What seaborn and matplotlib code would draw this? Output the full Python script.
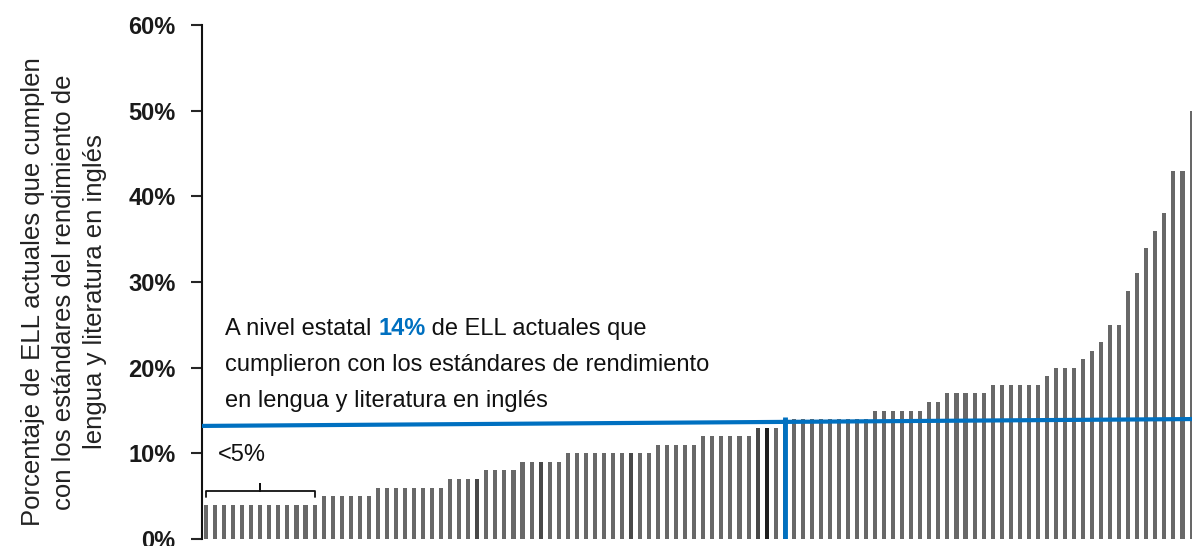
import matplotlib
matplotlib.use("Agg")
import matplotlib.pyplot as plt
from matplotlib import font_manager
import seaborn as sns
import pandas as pd

# share of current ELLs meeting the ELA standard, one bar per district (sorted)
pct_meeting = [
    4, 4, 4, 4, 4, 4, 4, 4, 4, 4, 4, 4, 4,
    5, 5, 5, 5, 5, 5,
    6, 6, 6, 6, 6, 6, 6, 6,
    7, 7, 7, 7,
    8, 8, 8, 8,
    9, 9, 9, 9, 9,
    10, 10, 10, 10, 10, 10, 10, 10, 10, 10,
    11, 11, 11, 11, 11,
    12, 12, 12, 12, 12, 12,
    13, 13, 13,
    14, 14, 14, 14, 14, 14, 14, 14, 14, 14,
    15, 15, 15, 15, 15, 15,
    16, 16,
    17, 17, 17, 17, 17,
    18, 18, 18, 18, 18, 18,
    19,
    20, 20, 20,
    21, 22, 23,
    25, 25,
    29, 31, 34, 36, 38, 43, 43, 50,
]
district_ids = [f"D{i + 1}" for i in range(len(pct_meeting))]
dark_districts = ["D31", "D38", "D48", "D62"]
black_districts = ["D63"]
state_district = "D65"       # where the state average falls
state_avg = 14
state_line_ends = [13.2, 14.0]   # the reference line is drawn slightly tilted
small_group = district_ids[:13]  # the "<5%" group

y_ticks = [0, 10, 20, 30, 40, 50, 60]
y_tick_labels = ["0%", "10%", "20%", "30%", "40%", "50%", "60%"]
y_label = ("Porcentaje de ELL actuales que cumplen\n"
           "con los estándares del rendimiento de\n"
           "lengua y literatura en inglés")

BLUE = "#0070C0"
GRAY = "#686868"

names = {f.name for f in font_manager.fontManager.ttflist}
NARROW = "Liberation Sans Narrow" if "Liberation Sans Narrow" in names else "Liberation Sans"

sns.set_style("white")
plt.rcParams["font.family"] = ["Liberation Sans", "DejaVu Sans"]

df = pd.DataFrame({"district": district_ids, "pct": [v / 100 for v in pct_meeting]})
palette = {}
for d in district_ids:
    if d in black_districts:
        palette[d] = "#1e1e1e"
    elif d in dark_districts:
        palette[d] = "#484848"
    else:
        palette[d] = GRAY

fig = plt.figure(figsize=(11.92, 5.46), dpi=100)
ax = fig.add_axes([202 / 1192, 7 / 546, 990 / 1192, 514 / 546])

sns.barplot(data=df, x="district", y="pct", hue="district", palette=palette,
            order=district_ids, legend=False, width=0.45, saturation=1,
            linewidth=0, edgecolor="none", ax=ax)

ax.set_xlim(-0.45, 109.05)
ax.set_ylim(0, 0.6)
ax.set_xticks([])
ax.set_xlabel("")
ax.set_ylabel("")
ax.set_yticks([t / 100 for t in y_ticks])
ax.set_yticklabels(y_tick_labels, fontsize=17, fontweight="bold", color="#1a1a1a")
ax.tick_params(axis="y", direction="out", length=8, width=1.5, pad=11, left=True)
for side in ["top", "right", "bottom"]:
    ax.spines[side].set_visible(False)
ax.spines["left"].set_linewidth(1.5)
ax.spines["left"].set_color("#111111")

# state average lines
xmin, xmax = ax.get_xlim()
ax.plot([xmin, xmax], [v / 100 for v in state_line_ends], color=BLUE, lw=3,
        solid_capstyle="butt", zorder=4)
sx = district_ids.index(state_district)
ax.plot([sx, sx], [0, state_avg / 100 + 0.002], color=BLUE, lw=3.5,
        solid_capstyle="butt", zorder=5)

# annotation text
txt_kw = dict(fontsize=17, family=NARROW, color="#111111", va="baseline", ha="left")
t1 = ax.text(2.1, 0.238, "A nivel estatal ", **txt_kw)
t2 = ax.annotate(f"{state_avg}%", xy=(1, 0), xycoords=t1, va="bottom", ha="left",
                 fontsize=17, fontweight="bold", color=BLUE, family="Liberation Sans")
ax.annotate(" de ELL actuales que", xy=(1, 0), xycoords=t2, va="bottom", ha="left",
            fontsize=17, family=NARROW, color="#111111")
ax.text(2.1, 0.196, "cumplieron con los estándares de rendimiento", **txt_kw)
ax.text(2.1, 0.154, "en lengua y literatura en inglés", **txt_kw)

# bracket over the <5% group
b0 = district_ids.index(small_group[0])
b1 = district_ids.index(small_group[-1])
bm = (b0 + b1) / 2
ax.plot([b0, b0, bm, bm, bm, b1, b1], [0.049, 0.0565, 0.0565, 0.0645, 0.0565, 0.0565, 0.049],
        color="#111111", lw=1.3)
ax.text(4.0, 0.0985, "<5%", fontsize=17, ha="center", va="center", color="#111111")

fig.text(64 / 1192, 1 - 292 / 546, y_label, rotation=90, ha="center", va="center",
         multialignment="center", fontsize=18.5, family=NARROW, color="#222222",
         linespacing=1.38)

fig.savefig("out.png", dpi=100)
